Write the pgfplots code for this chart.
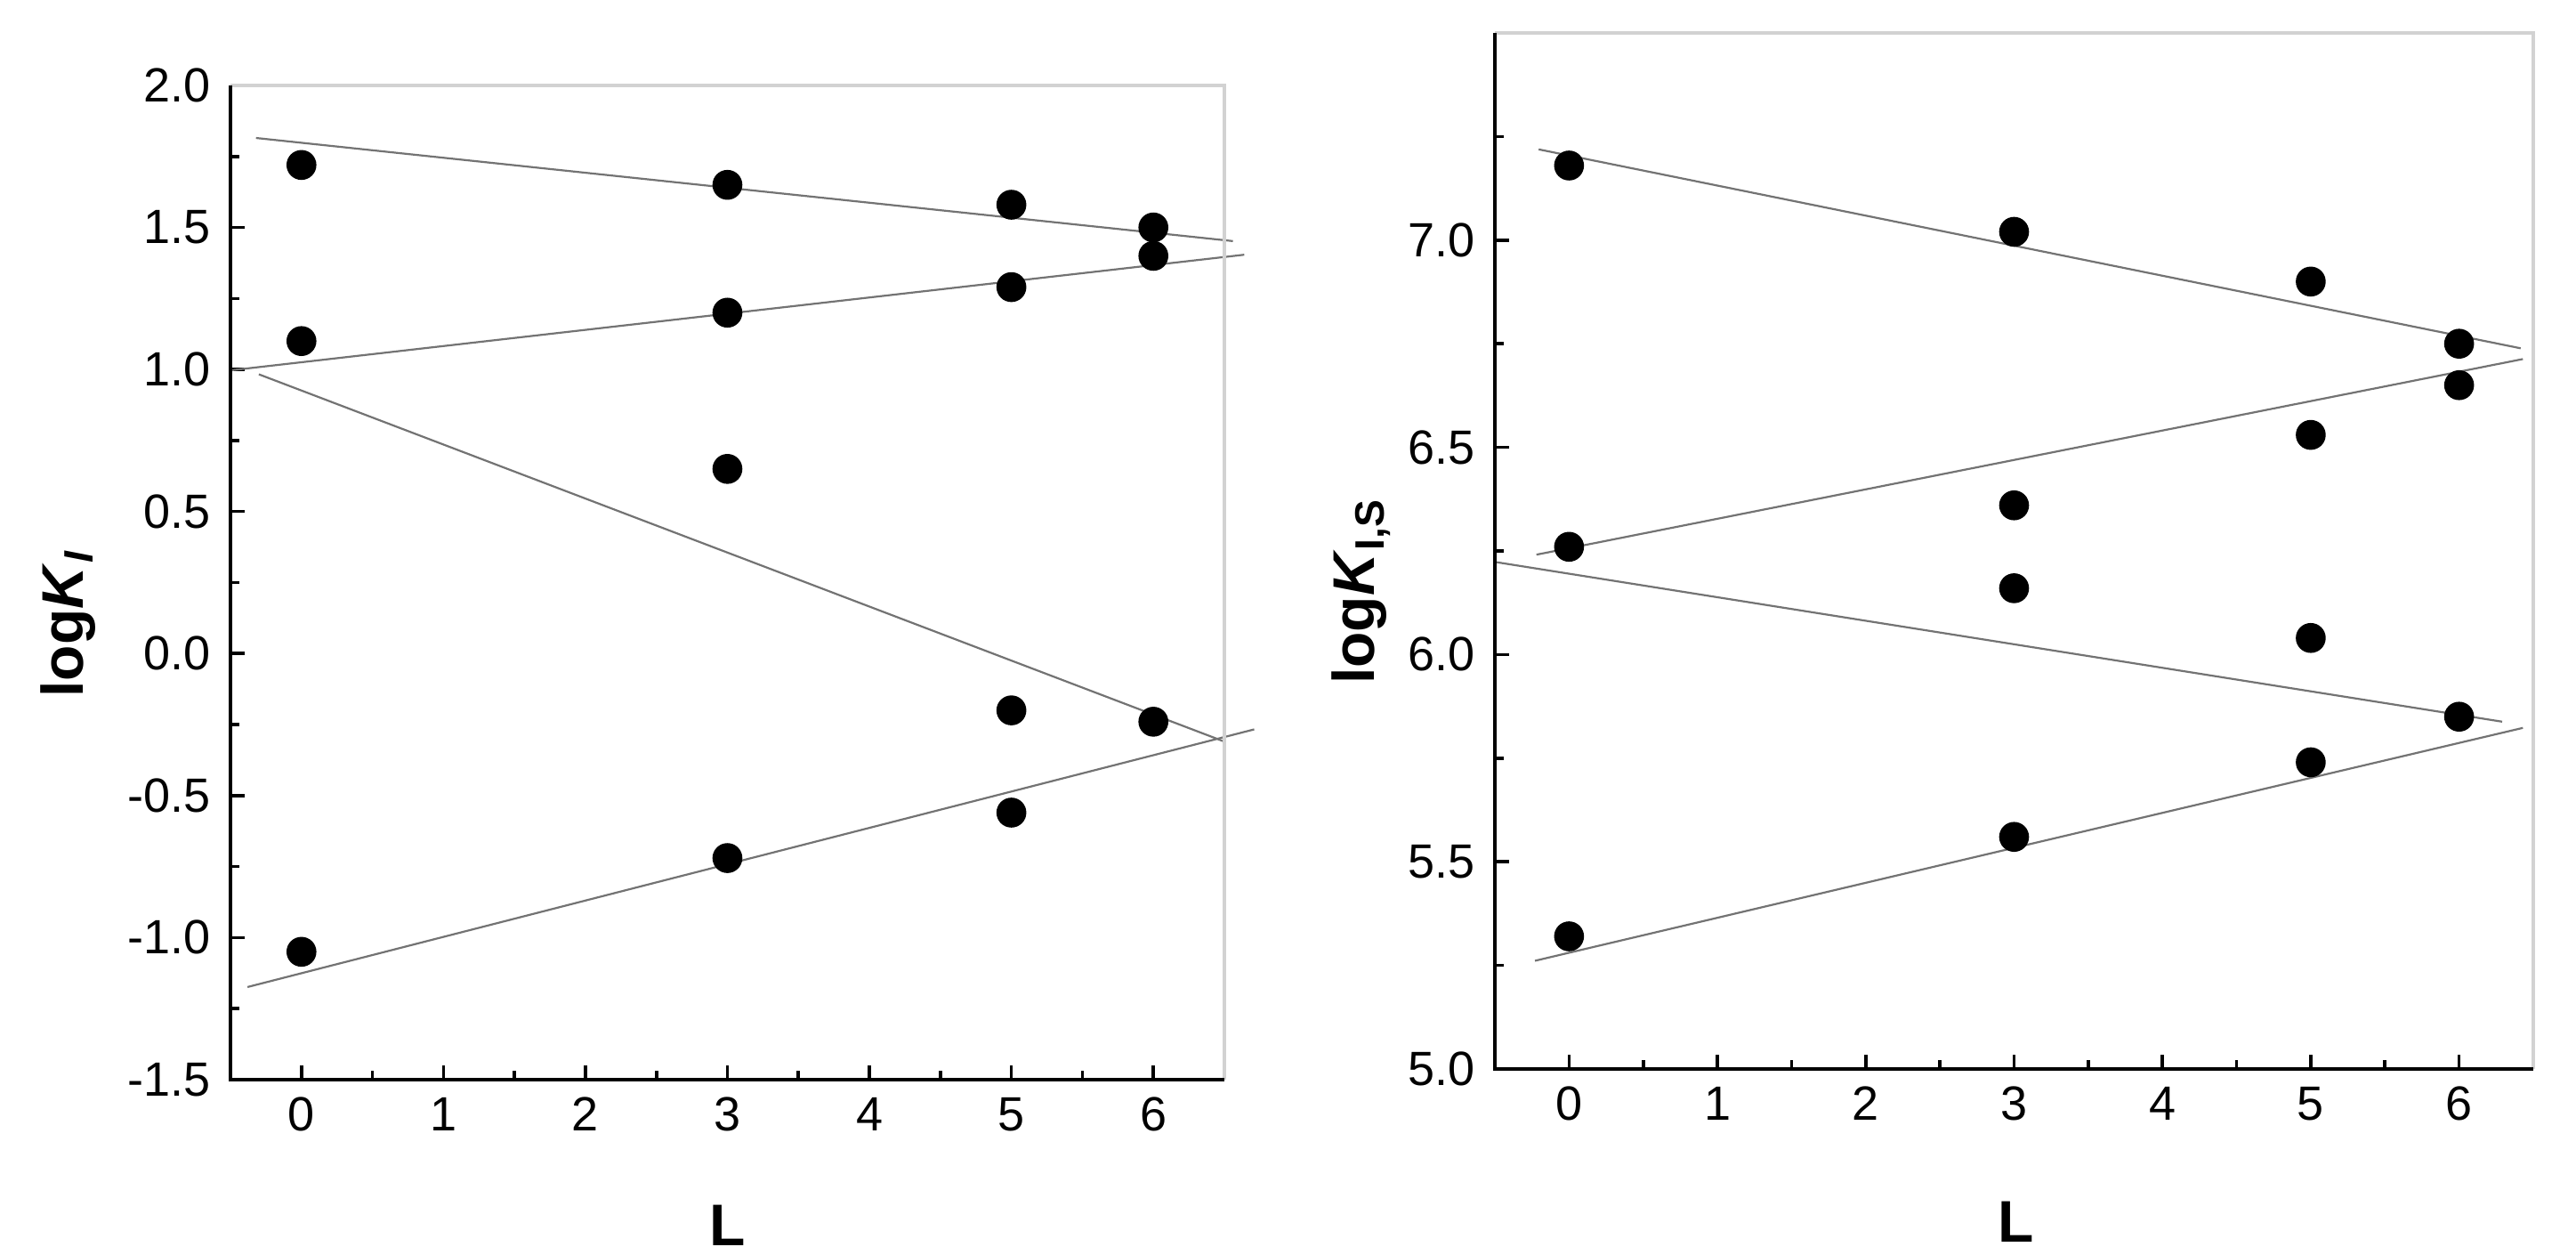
\documentclass[border=0pt]{standalone}
\usepackage{fontspec}
\setmainfont{Liberation Sans}
\usepackage{pgfplots}
\pgfplotsset{compat=1.18}
\usetikzlibrary{calc}

% shared look of both panels
\pgfplotsset{
  kplot/.style={
    scale only axis, clip=false,
    axis line style={draw=none},
    xmin=-0.5, xmax=6.5,
    xtick={0,...,6}, minor xtick={0.5,1.5,...,5.5},
    xtick pos=bottom, ytick pos=left,
    tick align=inside,
    major tick length=4pt, minor tick length=2.5pt,
    tick style={black, line width=0.9pt},
    tick label style={font=\fontsize{13.5}{15}\selectfont},
    /pgf/number format/assume math mode=true,
    yticklabel style={/pgf/number format/fixed, /pgf/number format/fixed zerofill,
      /pgf/number format/precision=1, xshift=-2pt},
    xticklabel style={yshift=-1.5pt},
    label style={font=\fontsize{16.5}{18}\selectfont\bfseries},
  },
  pts/.style={only marks, mark=*, mark size=4pt, black},
  fit/.style={no marks, black!55, line width=0.55pt},
}
\newcommand{\frameaxis}{%
  \draw[gray!35, line width=1pt] (rel axis cs:0,1) -- (rel axis cs:1,1) -- (rel axis cs:1,0);
  \draw[black, line width=1pt] (rel axis cs:0,1) -- (rel axis cs:0,0) -- (rel axis cs:1,0);
}

\begin{document}
\begin{tikzpicture}
\useasboundingbox (0,0) rectangle (723.75pt,352.5pt);

% left panel: log K_I
\begin{axis}[kplot,
    at={(64.75pt,49.25pt)}, anchor=south west,
    width=279.25pt, height=279.25pt,
    ymin=-1.5, ymax=2,
    ytick={-1.5,-1,...,2}, minor ytick={-1.25,-0.75,...,1.75},
    xlabel={L},
    xlabel style={at={($(rel axis cs:0.5,0)+(0,-41pt)$)}, anchor=center},
    ylabel={log\textit{K}\textsubscript{\textit{I}}},
    ylabel style={at={($(rel axis cs:0,0.459)+(-45.5pt,0)$)}, anchor=center, rotate=0},
]
\addplot[fit] coordinates {(-0.32,1.815) (6.56,1.452)};
\addplot[fit] coordinates {(-0.5,0.997) (6.64,1.404)};
\addplot[fit] coordinates {(-0.30,0.983) (6.5,-0.31)};
\addplot[fit] coordinates {(-0.38,-1.174) (6.71,-0.267)};
\addplot[pts] coordinates {
  (0,1.72) (0,1.10) (0,-1.05)
  (3,1.65) (3,1.20) (3,0.65) (3,-0.72)
  (5,1.58) (5,1.29) (5,-0.20) (5,-0.56)
  (6,1.50) (6,1.40) (6,-0.24)
};
\frameaxis
\end{axis}

% right panel: log K_I,S
\begin{axis}[kplot,
    at={(420pt,52.25pt)}, anchor=south west,
    width=291.75pt, height=291pt,
    ymin=5, ymax=7.5,
    ytick={5,5.5,...,7}, minor ytick={5.25,5.75,...,7.25},
    xlabel={L},
    xlabel style={at={($(rel axis cs:0.5,0)+(0,-43pt)$)}, anchor=center},
    ylabel={log\textit{K}\textsubscript{I,S}},
    ylabel style={at={($(rel axis cs:0,0.461)+(-38pt,0)$)}, anchor=center, rotate=0},
]
\addplot[fit] coordinates {(-0.205,7.219) (6.415,6.739)};
\addplot[fit] coordinates {(-0.22,6.241) (6.43,6.713)};
\addplot[fit] coordinates {(-0.51,6.224) (6.29,5.838)};
\addplot[fit] coordinates {(-0.23,5.261) (6.43,5.823)};
\addplot[pts] coordinates {
  (0,7.18) (0,6.26) (0,5.32)
  (3,7.02) (3,6.36) (3,6.16) (3,5.56)
  (5,6.90) (5,6.53) (5,6.04) (5,5.74)
  (6,6.75) (6,6.65) (6,5.85)
};
\frameaxis
\end{axis}
\end{tikzpicture}
\end{document}
